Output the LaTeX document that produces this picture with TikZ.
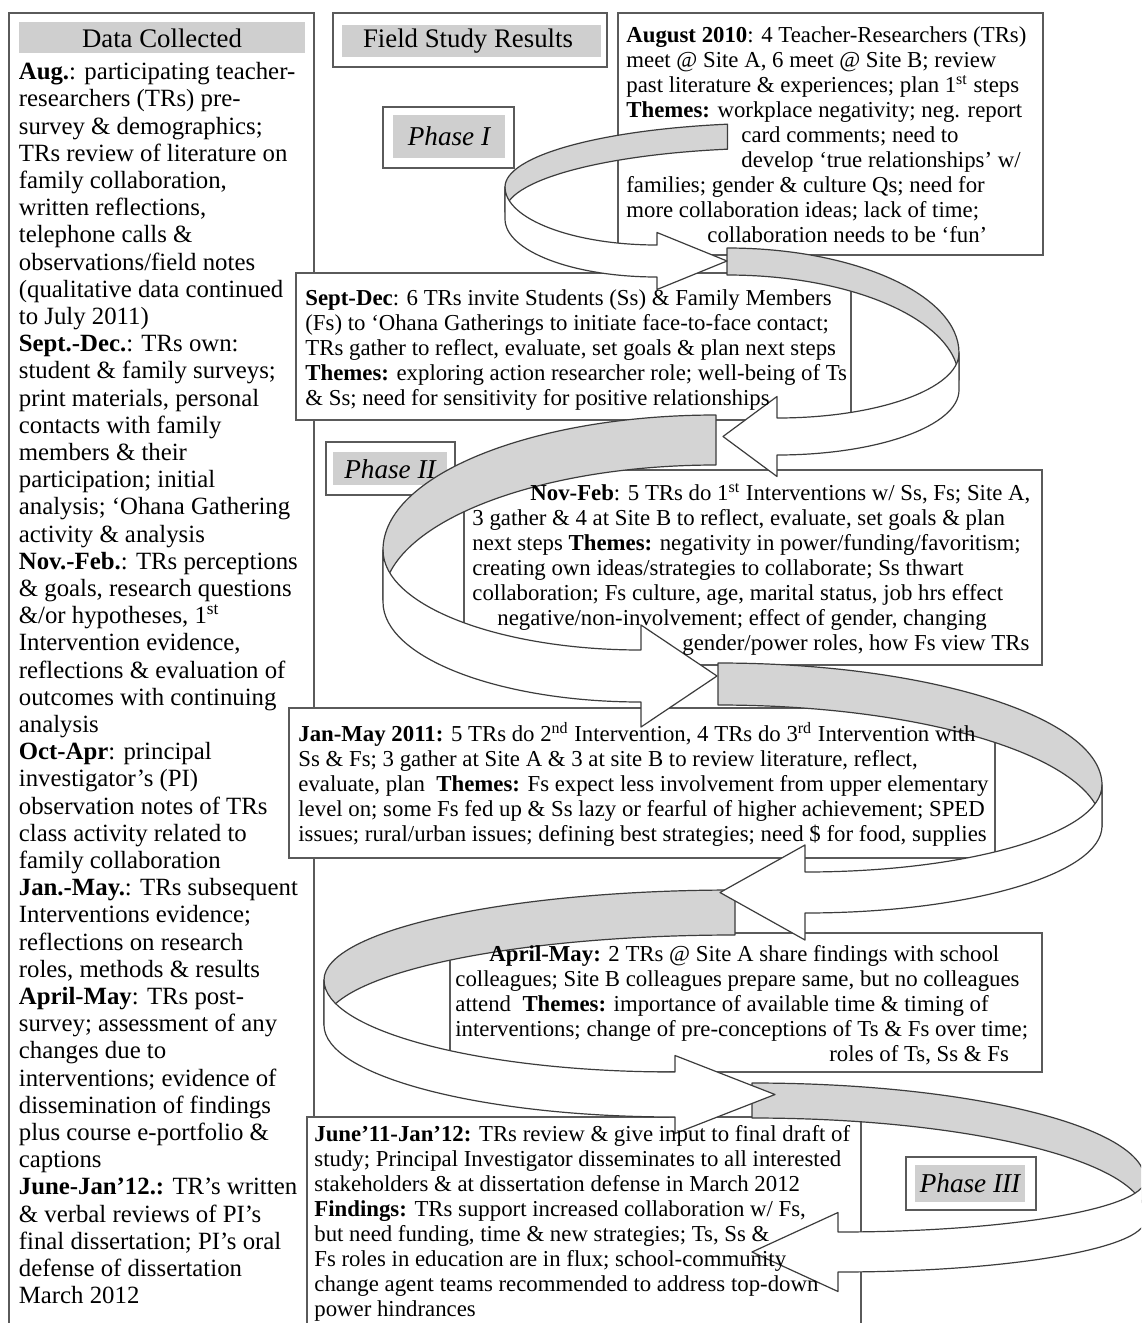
\documentclass[tikz,border=0pt]{standalone}
\usepackage{fontspec}
\setmainfont{Liberation Serif}
\definecolor{boxgray}{HTML}{5A5A5A}
\definecolor{bargray}{HTML}{CFCFCF}
\definecolor{ribgray}{HTML}{D4D4D4}
\definecolor{ribline}{HTML}{3C3C3C}

\begin{document}
\begin{tikzpicture}[x=0.5pt, y=-0.5pt,
    frame/.style={draw=boxgray, line width=1pt, fill=white},
    bar/.style={fill=bargray},
    back/.style={fill=ribgray, draw=ribline, line width=0.6pt, line join=round},
    front/.style={fill=white, draw=ribline, line width=0.6pt, line join=round},
    head/.style={inner sep=0pt, font=\fontsize{13.4}{15}\selectfont},
    phase/.style={inner sep=0pt, font=\fontsize{13.6}{15}\selectfont\itshape},
    textblock/.style={anchor=north west, inner sep=0pt, align=left, font=\fontsize{11.4}{12.5}\selectfont},
    leftblock/.style={anchor=north west, inner sep=0pt, align=left, font=\fontsize{12.4}{13.6}\selectfont}]
    \useasboundingbox (0,0) rectangle (1141,1323);
    \clip (0,0) rectangle (1141,1323);
    \fill[white] (0,0) rectangle (1141,1323);

    % column headers
    \draw[frame] (9,13) rectangle (314,1340);
    \fill[bar] (18.5,22) rectangle (305,53);
    \node[head] (datahead) at (162,38) {Data Collected};
    \draw[frame] (333,13) rectangle (607,67);
    \fill[bar] (342,25) rectangle (601,57);
    \node[head] (fieldhead) at (468,41) {Field Study Results};

    % result boxes
    \draw[frame] (618,13) rectangle (1043,255);
    \draw[frame] (296,273) rectangle (851,420);
    \draw[frame] (464,470) rectangle (1042,665);
    \draw[frame] (289,708) rectangle (995,858);
    \draw[frame] (450,933) rectangle (1042,1072);
    \draw[frame] (307,1117) rectangle (861,1340);

    % phase labels
    \draw[frame] (383,107) rectangle (514,168);
    \fill[bar] (393,115) rectangle (505,158);
    \node[phase] (phaseone) at (449,136) {Phase I};
    \draw[frame] (326,442) rectangle (455,495);
    \fill[bar] (333,452) rectangle (447,485);
    \node[phase] (phasetwo) at (390,469) {Phase II};
    \draw[frame] (906,1157) rectangle (1036,1210);
    \fill[bar] (915,1165) rectangle (1025,1202);
    \node[phase] (phasethree) at (970,1183) {Phase III};

    % back of the ribbon loops
    \filldraw[back] (505,187) arc[start angle=180, end angle=259, x radius=275, y radius=64] -- ++(0,25) arc[start angle=259, end angle=180, x radius=275, y radius=64] -- cycle;
    \filldraw[back] (959,353) arc[start angle=360, end angle=270, x radius=232, y radius=105] -- ++(0,27) arc[start angle=270, end angle=360, x radius=232, y radius=105] -- cycle;
    \filldraw[back] (383,550) arc[start angle=180, end angle=270, x radius=333, y radius=135] -- ++(0,50) arc[start angle=270, end angle=180, x radius=333, y radius=135] -- cycle;
    \filldraw[back] (1102,785) arc[start angle=360, end angle=270, x radius=384, y radius=122] -- ++(0,42) arc[start angle=270, end angle=360, x radius=384, y radius=122] -- cycle;
    \filldraw[back] (324,980) arc[start angle=180, end angle=270, x radius=411, y radius=90] -- ++(0,45) arc[start angle=270, end angle=180, x radius=411, y radius=90] -- cycle;
    \filldraw[back] (1145,1180) arc[start angle=360, end angle=270, x radius=393, y radius=97] -- ++(0,35) arc[start angle=270, end angle=360, x radius=393, y radius=97] -- cycle;

    % front of the ribbon loops, with heads
    \filldraw[front] (505,187) arc[start angle=180, end angle=90, x radius=152, y radius=58] -- ++(0,-12.5) -- ++(70,28.5) -- ++(-70,28.5) -- ++(0,-12.5) arc[start angle=90, end angle=180, x radius=152, y radius=58] -- cycle;
    \filldraw[front] (959,353) arc[start angle=0, end angle=90, x radius=182, y radius=65] -- ++(0,-21.5) -- ++(-54,40) -- ++(54,40) -- ++(0,-21.5) arc[start angle=90, end angle=0, x radius=182, y radius=65] -- cycle;
    \filldraw[front] (383,550) arc[start angle=180, end angle=90, x radius=258, y radius=100] -- ++(0,-25) -- ++(76,51) -- ++(-76,51) -- ++(0,-25) arc[start angle=90, end angle=180, x radius=258, y radius=100] -- cycle;
    \filldraw[front] (1102,785) arc[start angle=0, end angle=90, x radius=297, y radius=87] -- ++(0,-27) -- ++(-85,47.5) -- ++(85,47.5) -- ++(0,-27) arc[start angle=90, end angle=0, x radius=297, y radius=87] -- cycle;
    \filldraw[front] (324,980) arc[start angle=180, end angle=90, x radius=351, y radius=92] -- ++(0,-16.5) -- ++(100,39) -- ++(-100,39) -- ++(0,-16.5) arc[start angle=90, end angle=180, x radius=351, y radius=92] -- cycle;
    \filldraw[front] (1145,1180) arc[start angle=0, end angle=90, x radius=307, y radius=52] -- ++(0,-19.5) -- ++(-86,39.5) -- ++(86,39.5) -- ++(0,-19.5) arc[start angle=90, end angle=0, x radius=307, y radius=52] -- cycle;

    % texts
    \node[leftblock] (datatext) at (18.5,62) {\textbf{Aug.}: participating teacher-\\
        researchers (TRs) pre-\\
        survey \& demographics;\\
        TRs review of literature on\\
        family collaboration,\\
        written reflections,\\
        telephone calls \&\\
        observations/field notes\\
        (qualitative data continued\\
        to July 2011)\\
        \textbf{Sept.-Dec.}: TRs own:\\
        student \& family surveys;\\
        print materials, personal\\
        contacts with family\\
        members \& their\\
        participation; initial\\
        analysis; ‘Ohana Gathering\\
        activity \& analysis\\
        \textbf{Nov.-Feb.}: TRs perceptions\\
        \& goals, research questions\\
        \&/or hypotheses, 1\textsuperscript{st}\\
        Intervention evidence,\\
        reflections \& evaluation of\\
        outcomes with continuing\\
        analysis\\
        \textbf{Oct-Apr}: principal\\
        investigator’s (PI)\\
        observation notes of TRs\\
        class activity related to\\
        family collaboration\\
        \textbf{Jan.-May.}: TRs subsequent\\
        Interventions evidence;\\
        reflections on research\\
        roles, methods \& results\\
        \textbf{April-May}: TRs post-\\
        survey; assessment of any\\
        changes due to\\
        interventions; evidence of\\
        dissemination of findings\\
        plus course e-portfolio \&\\
        captions\\
        \textbf{June-Jan’12.:} TR’s written\\
        \& verbal reviews of PI’s\\
        final dissertation; PI’s oral\\
        defense of dissertation\\
        March 2012};

    \node[textblock] (augtext) at (626,26.7) {\textbf{August 2010}: 4 Teacher-Researchers (TRs)\\
        meet @ Site A, 6 meet @ Site B; review\\
        past literature \& experiences; plan 1\textsuperscript{st} steps\\
        \textbf{Themes:} workplace negativity; neg. report\\
        \hspace*{57.5pt}card comments; need to\\
        \hspace*{57.5pt}develop ‘true relationships’ w/\\
        families; gender \& culture Qs; need for\\
        more collaboration ideas; lack of time;\\
        \hspace*{40.5pt}collaboration needs to be ‘fun’};

    \node[textblock] (septtext) at (305,289.7) {\textbf{Sept-Dec}: 6 TRs invite Students (Ss) \& Family Members\\
        (Fs) to ‘Ohana Gatherings to initiate face-to-face contact;\\
        TRs gather to reflect, evaluate, set goals \& plan next steps\\
        \textbf{Themes:} exploring action researcher role; well-being of Ts\\
        \& Ss; need for sensitivity for positive relationships};

    \node[textblock] (novtext) at (472,482.7) {\hspace*{29pt}\textbf{Nov-Feb}: 5 TRs do 1\textsuperscript{st} Interventions w/ Ss, Fs; Site A,\\
        3 gather \& 4 at Site B to reflect, evaluate, set goals \& plan\\
        next steps \textbf{Themes:} negativity in power/funding/favoritism;\\
        creating own ideas/strategies to collaborate; Ss thwart\\
        collaboration; Fs culture, age, marital status, job hrs effect\\
        \hspace*{12.5pt}negative/non-involvement; effect of gender, changing\\
        \hspace*{105pt}gender/power roles, how Fs view TRs};

    \node[textblock] (jantext) at (298,721.7) {\textbf{Jan-May 2011:} 5 TRs do 2\textsuperscript{nd} Intervention, 4 TRs do 3\textsuperscript{rd} Intervention with\\
        Ss \& Fs; 3 gather at Site A \& 3 at site B to review literature, reflect,\\
        evaluate, plan\ \ \textbf{Themes:} Fs expect less involvement from upper elementary\\
        level on; some Fs fed up \& Ss lazy or fearful of higher achievement; SPED\\
        issues; rural/urban issues; defining best strategies; need \$ for food, supplies};

    \node[textblock] (apriltext) at (455,944.7) {\hspace*{17pt}\textbf{April-May:} 2 TRs @ Site A share findings with school\\
        colleagues; Site B colleagues prepare same, but no colleagues\\
        attend\ \ \textbf{Themes:} importance of available time \& timing of\\
        interventions; change of pre-conceptions of Ts \& Fs over time;\\
        \hspace*{187pt}roles of Ts, Ss \& Fs};

    \node[textblock] (junetext) at (314,1124.7) {\textbf{June’11-Jan’12:} TRs review \& give input to final draft of\\
        study; Principal Investigator disseminates to all interested\\
        stakeholders \& at dissertation defense in March 2012\\
        \textbf{Findings:} TRs support increased collaboration w/ Fs,\\
        but need funding, time \& new strategies; Ts, Ss \&\\
        Fs roles in education are in flux; school-community\\
        change agent teams recommended to address top-down\\
        power hindrances};
\end{tikzpicture}
\end{document}
